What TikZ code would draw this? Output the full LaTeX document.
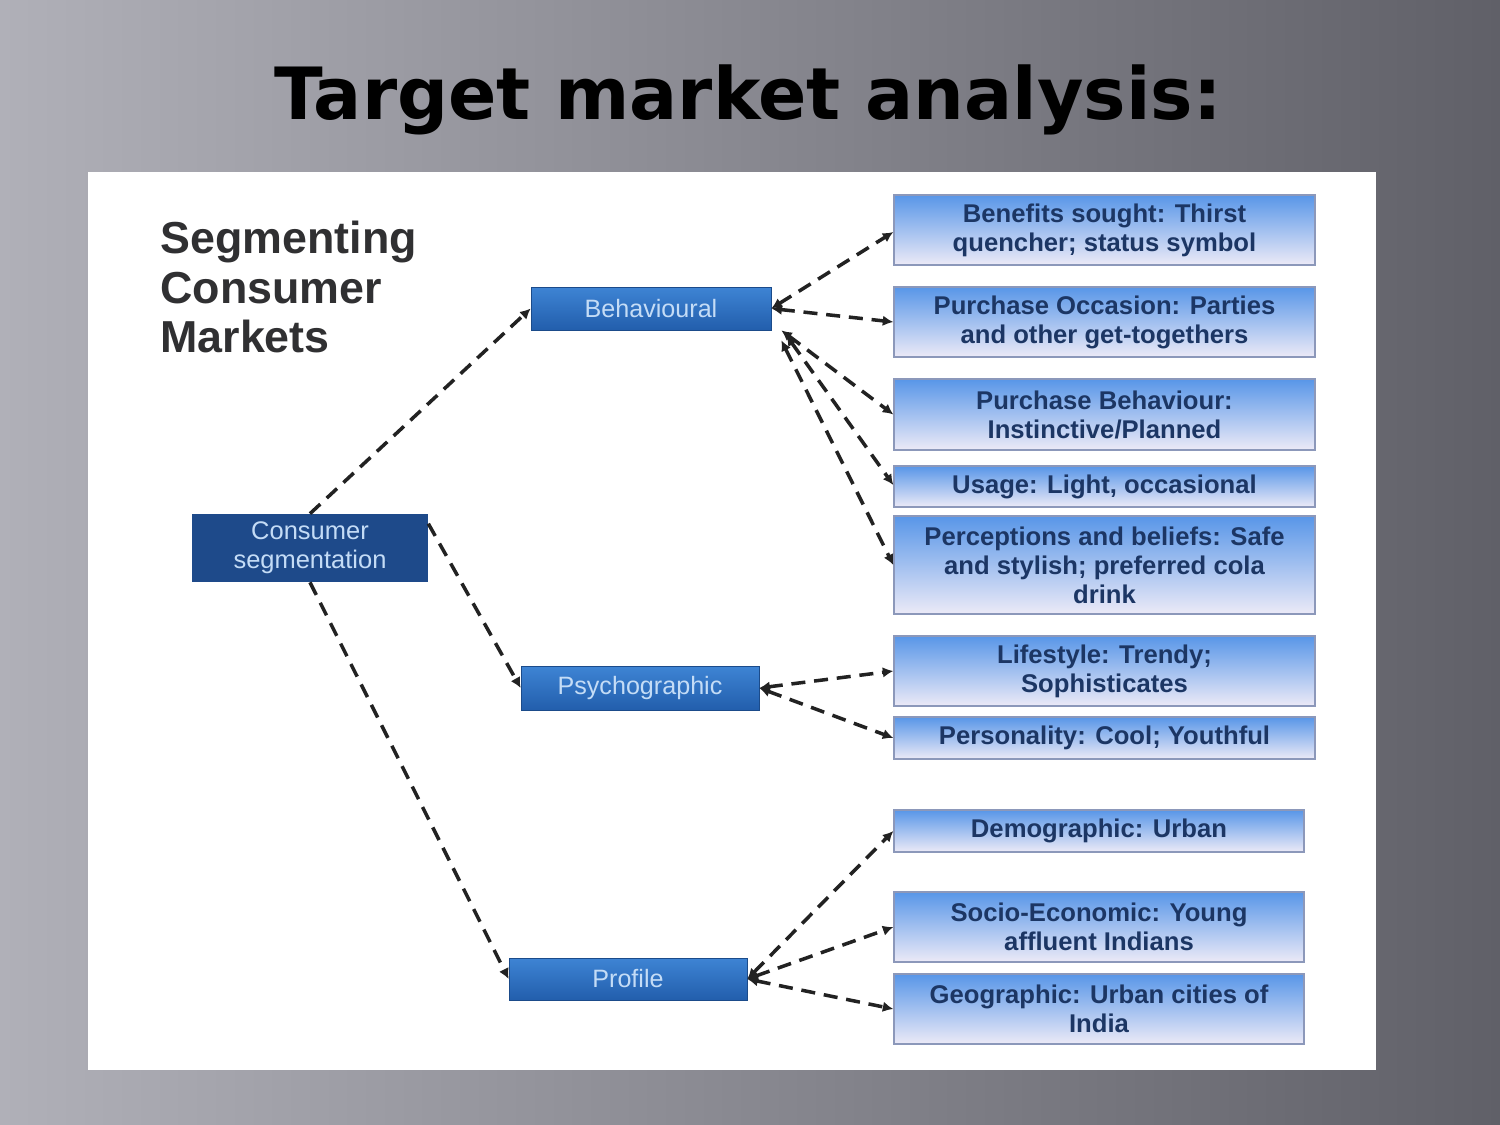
\documentclass[tikz,border=0pt]{standalone}
\usepackage{fontspec}
\setmainfont{Liberation Sans}
\newfontfamily\titlefont{DejaVu Sans}
\usetikzlibrary{arrows.meta}

\definecolor{bgleft}{RGB}{176,176,184}
\definecolor{bgright}{RGB}{96,96,104}
\definecolor{headgray}{RGB}{48,48,50}
\definecolor{rootblue}{RGB}{30,74,138}
\definecolor{midtop}{RGB}{62,132,212}
\definecolor{midbot}{RGB}{34,94,172}
\definecolor{midtext}{RGB}{196,220,246}
\definecolor{leaftop}{RGB}{88,150,232}
\definecolor{leafbot}{RGB}{236,234,247}
\definecolor{leafline}{RGB}{140,152,186}
\definecolor{leaftext}{RGB}{28,54,100}
\definecolor{linkgray}{RGB}{34,34,34}

\begin{document}
\begin{tikzpicture}[x=0.02cm, y=-0.02cm,
	rootbox/.style={fill=rootblue, text=midtext, align=center, inner sep=0pt, font=\fontsize{14.5}{16.5}\selectfont},
	midbox/.style={top color=midtop, bottom color=midbot, draw=midbot!80!black, line width=0.4pt, text=midtext, inner sep=0pt, font=\fontsize{14.3}{16}\selectfont},
	leaf/.style={top color=leaftop, bottom color=leafbot, draw=leafline, line width=0.8pt, text=leaftext, align=center, inner sep=0pt, font=\fontsize{14.6}{16.5}\selectfont\bfseries},
	link/.style={draw=linkgray, line width=2pt, dash pattern=on 8pt off 5pt},
	tip/.style={link, -{Latex[length=6pt,width=6pt]}},
	twotip/.style={link, {Latex[length=6pt,width=6pt]}-{Latex[length=6pt,width=6pt]}}]

	% slide background and white panel
	\shade[left color=bgleft, right color=bgright] (0,0) rectangle (1500,1125);
	\fill[white] (88,172) rectangle (1376,1070);

	\node[font=\titlefont\fontsize{41}{48}\selectfont\bfseries] (title) at (748,100) {\scalebox{0.99}[1]{Target market analysis:}};
	\node[anchor=west, align=left, inner sep=0pt, text=headgray, font=\fontsize{25.5}{28}\selectfont\bfseries] (heading) at (160,287) {Segmenting\\Consumer\\Markets};

	% levels
	\node[rootbox, minimum width=4.72cm, minimum height=1.36cm] (cs) at (310,548) {Consumer\\segmentation};
	\node[midbox, minimum width=4.8cm, minimum height=0.86cm] (beh) at (651,308.5) {Behavioural};
	\node[midbox, minimum width=4.76cm, minimum height=0.88cm] (psy) at (640,688) {Psychographic};
	\node[midbox, minimum width=4.76cm, minimum height=0.84cm] (pro) at (628,979) {Profile};

	% leaves
	\node[leaf, minimum width=8.42cm, minimum height=1.4cm] (ben) at (1104.5,230) {Benefits sought: Thirst\\quencher; status symbol};
	\node[leaf, minimum width=8.42cm, minimum height=1.4cm] (occ) at (1104.5,322) {Purchase Occasion: Parties\\and other get-togethers};
	\node[leaf, minimum width=8.42cm, minimum height=1.42cm] (pbe) at (1104.5,414.5) {Purchase Behaviour:\\Instinctive/Planned};
	\node[leaf, minimum width=8.42cm, minimum height=0.82cm] (use) at (1104.5,486.5) {Usage: Light, occasional};
	\node[leaf, minimum width=8.42cm, minimum height=1.96cm] (per) at (1104.5,565) {Perceptions and beliefs: Safe\\and stylish; preferred cola\\drink};
	\node[leaf, minimum width=8.42cm, minimum height=1.4cm] (lif) at (1104.5,671) {Lifestyle: Trendy;\\Sophisticates};
	\node[leaf, minimum width=8.42cm, minimum height=0.84cm] (pty) at (1104.5,738) {Personality: Cool; Youthful};
	\node[leaf, minimum width=8.2cm, minimum height=0.84cm] (dem) at (1099,831) {Demographic: Urban};
	\node[leaf, minimum width=8.2cm, minimum height=1.4cm] (soc) at (1099,927) {Socio-Economic: Young\\affluent Indians};
	\node[leaf, minimum width=8.2cm, minimum height=1.4cm] (geo) at (1099,1009) {Geographic: Urban cities of\\India};

	% connectors
	\draw[tip] (cs.north) -- (beh.west);
	\draw[tip] ([yshift=-0.2cm]cs.north east) -- (psy.west);
	\draw[tip] (cs.south) -- (pro.west);

	\draw[twotip] (beh.east) -- ([yshift=-0.04cm]ben.west);
	\draw[twotip] (beh.east) -- (occ.west);
	\draw[twotip] ([xshift=0.2cm]beh.south east) -- (pbe.west);
	\draw[twotip] ([xshift=0.3cm,yshift=-0.1cm]beh.south east) -- ([yshift=0.03cm]use.west);
	\draw[twotip] ([xshift=0.2cm,yshift=-0.2cm]beh.south east) -- (per.west);

	\draw[twotip] (psy.east) -- (lif.west);
	\draw[twotip] (psy.east) -- (pty.west);

	\draw[twotip] (pro.east) -- (dem.west);
	\draw[twotip] (pro.east) -- (soc.west);
	\draw[twotip] (pro.east) -- (geo.west);
\end{tikzpicture}
\end{document}
